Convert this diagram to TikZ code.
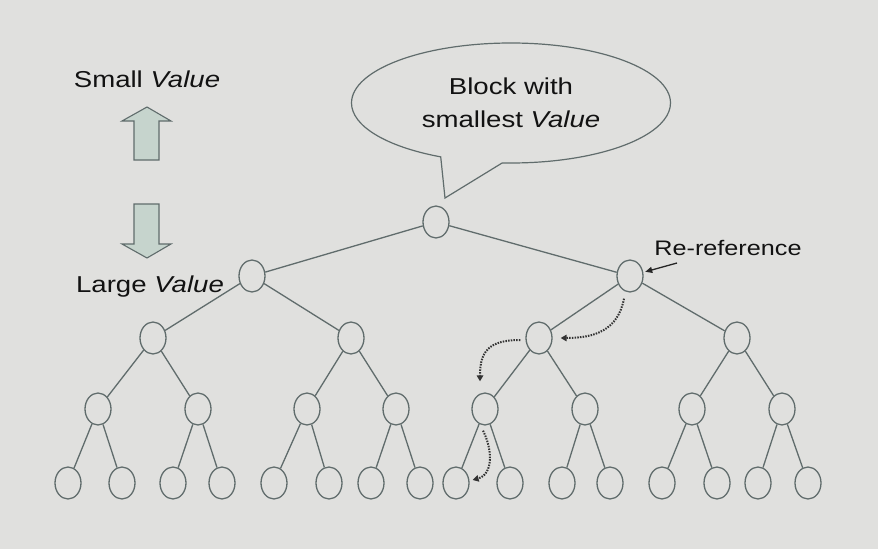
\documentclass[tikz,border=0pt]{standalone}
\usepackage{fontspec}
\setmainfont{Liberation Sans}[FakeStretch=1.2]
\usetikzlibrary{shapes.geometric,shapes.callouts,arrows.meta,calc}
\definecolor{bgc}{RGB}{224,224,222}
\definecolor{linec}{RGB}{96,108,108}
\definecolor{arrowfill}{RGB}{198,212,205}
\definecolor{txtc}{RGB}{18,18,18}
\begin{document}
\begin{tikzpicture}[x=1pt,y=-1pt,
        blk/.style={ellipse, draw=linec, line width=1.3pt, minimum width=26pt, minimum height=32pt, inner sep=0pt},
        edge/.style={draw=linec, line width=1.3pt},
        lbl/.style={text=txtc, font=\fontsize{23}{33}\selectfont, align=center},
        walk/.style={draw=black!80, line width=2pt, dash pattern=on 1.5pt off 1.2pt, -{Triangle[length=6pt,width=6.5pt]}},
        pointer/.style={draw=black!85, line width=1.3pt, -{Triangle[length=7pt,width=6pt]}},
        updown/.style={draw=linec, fill=arrowfill, line width=1.1pt}
    ]
        \fill[bgc] (0,0) rectangle (878,549);
        \useasboundingbox (0,0) rectangle (878,549);

        % the tree of blocks
        \node[blk] (r) at (436,222) {};
        \foreach \x [count=\i] in {252,630} \node[blk] (a\i) at (\x,276) {};
        \foreach \x [count=\i] in {153,351,539,737} \node[blk] (b\i) at (\x,338) {};
        \foreach \x [count=\i] in {98,198,307,396,485,585,692,782} \node[blk] (c\i) at (\x,409) {};
        \foreach \x [count=\i] in {68,122,173,222,274,329,371,420,456,510,562,610,662,717,758,808}
            \node[blk] (d\i) at (\x,483) {};

        \foreach \i in {1,2} \draw[edge] (r) -- (a\i);
        \foreach \i in {1,...,4} {\pgfmathtruncatemacro\p{(\i+1)/2} \draw[edge] (a\p) -- (b\i);}
        \foreach \i in {1,...,8} {\pgfmathtruncatemacro\p{(\i+1)/2} \draw[edge] (b\p) -- (c\i);}
        \foreach \i in {1,...,16} {\pgfmathtruncatemacro\p{(\i+1)/2} \draw[edge] (c\p) -- (d\i);}

        % labels
        \node[lbl, anchor=base] (small) at (147,87) {Small \textit{Value}};
        \node[lbl, anchor=base] (large) at (150,292) {Large \textit{Value}};
        \node[lbl, anchor=base, font=\fontsize{21}{25}\selectfont] (reref) at (728,255) {Re-reference};
        \node[lbl, ellipse callout, draw=linec, line width=1.2pt, minimum width=319pt, minimum height=120pt,
            callout absolute pointer={(445,198)}, callout pointer arc=23] (bubble) at (511,103)
            {Block with\\smallest \textit{Value}};

        % up and down arrows
        \draw[updown] (134,160) -- (134,121) -- (122,121) -- (147,107) -- (171,121) -- (159,121) -- (159,160) -- cycle;
        \draw[updown] (134,204) -- (159,204) -- (159,244) -- (171,244) -- (147,258) -- (122,244) -- (134,244) -- cycle;

        % re-reference path
        \coordinate (rrtail) at (677,263);
        \draw[pointer, shorten >=2pt] (rrtail) -- (a2);
        \draw[walk] ($(a2.south)+(-6,6)$) .. controls (618,330) and (595,338) .. ($(b3.east)+(8,0)$);
        \draw[walk] ($(b3.west)+(-5,2)$) .. controls (488,340) and (480,352) .. ($(c5.north)+(-5,-11)$);
        \draw[walk] ($(c5.south)+(-2,5)$) .. controls (492,448) and (494,474) .. ($(d9.east)+(3,-3)$);
    \end{tikzpicture}
\end{document}
